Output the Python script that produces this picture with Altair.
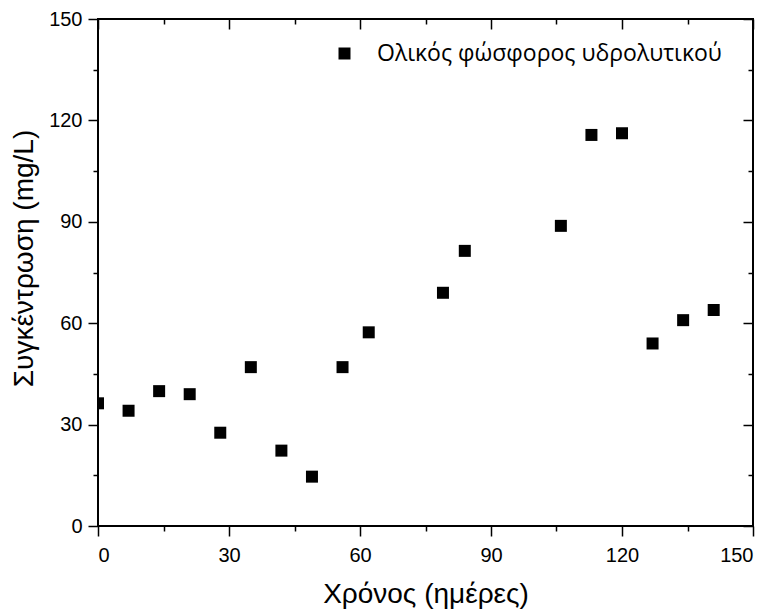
import altair as alt
import pandas as pd

days = [0, 7, 14, 21, 28, 35, 42, 49, 56, 62, 79, 84, 106, 113, 120, 127, 134, 141]
conc = [36.3, 34.1, 39.9, 39.0, 27.6, 47.0, 22.3, 14.6, 47.0, 57.3, 69.0, 81.4,
        88.8, 115.7, 116.2, 54.0, 60.9, 63.9]
series_name = "Ολικός φώσφορος υδρολυτικού"
major_ticks = [0, 30, 60, 90, 120, 150]
minor_ticks = [15, 45, 75, 105, 135]
x_title = "Χρόνος (ημέρες)"
y_title = "Συγκέντρωση (mg/L)"

df = pd.DataFrame({"t": days, "c": conc, "s": [series_name] * len(days)})

FONT = "Liberation Sans"
xs = alt.Scale(domain=[0, 150], nice=False, zero=False)
ys = alt.Scale(domain=[0, 150], nice=False, zero=False)


def ax(orient, values, size, offset=0, labels=False, title=None, **kw):
    args = dict(orient=orient, values=values, tickSize=size, offset=offset,
                labels=labels, domain=False, grid=False, tickColor="black",
                tickWidth=1.5, title=title)
    args.update(kw)
    return alt.Axis(**args)


base = alt.Chart(df)

points = base.mark_square(size=144, opacity=1, clip=True).encode(
    x=alt.X("t:Q", scale=xs,
            axis=ax("bottom", major_ticks, 10, labels=True, title=x_title,
                    labelFont=FONT, labelFontSize=20, labelColor="black",
                    labelBaseline="alphabetic", labelPadding=25,
                    titleFont=FONT, titleFontSize=28,
                    titleFontWeight="normal", titleColor="black",
                    titleBaseline="alphabetic", titleY=76)),
    y=alt.Y("c:Q", scale=ys,
            axis=ax("left", major_ticks, 10, labels=True, title=y_title,
                    labelFont=FONT, labelFontSize=20, labelColor="black",
                    labelPadding=6, titleFont=FONT, titleFontSize=28,
                    titleFontWeight="normal", titleColor="black",
                    titleY=239, titleX=-66, titleAlign="center",
                    titleBaseline="alphabetic", titleAngle=270)),
    color=alt.Color("s:N", scale=alt.Scale(range=["black"]),
                    legend=alt.Legend(orient="none", legendX=235, legendY=23,
                                      title=None, padding=0, symbolSize=144,
                                      symbolType="square", symbolStrokeWidth=0,
                                      labelFont="Open Sans",
                                      labelFontSize=23, labelColor="black",
                                      labelOffset=21, labelLimit=600)),
)

minor = base.mark_square(opacity=0).encode(
    x=alt.X("t:Q", scale=xs, axis=ax("bottom", minor_ticks, 5)),
    y=alt.Y("c:Q", scale=ys, axis=ax("left", minor_ticks, 5)),
)
mirror_major = base.mark_square(opacity=0).encode(
    x=alt.X("t:Q", scale=xs, axis=ax("top", major_ticks, 10, offset=-10)),
    y=alt.Y("c:Q", scale=ys, axis=ax("right", major_ticks, 10, offset=-10)),
)
mirror_minor = base.mark_square(opacity=0).encode(
    x=alt.X("t:Q", scale=xs, axis=ax("top", minor_ticks, 5, offset=-5)),
    y=alt.Y("c:Q", scale=ys, axis=ax("right", minor_ticks, 5, offset=-5)),
)

chart = alt.layer(points, minor, mirror_major, mirror_minor).resolve_axis(
    x="independent", y="independent"
).properties(
    width=655, height=507,
    autosize=alt.AutoSizeParams(type="none"),
    padding={"left": 98, "top": 19, "right": 21, "bottom": 84},
    background="white",
).configure_view(stroke="black", strokeWidth=2)

chart.save("out.html", embed_options={"renderer": "svg", "actions": False})
